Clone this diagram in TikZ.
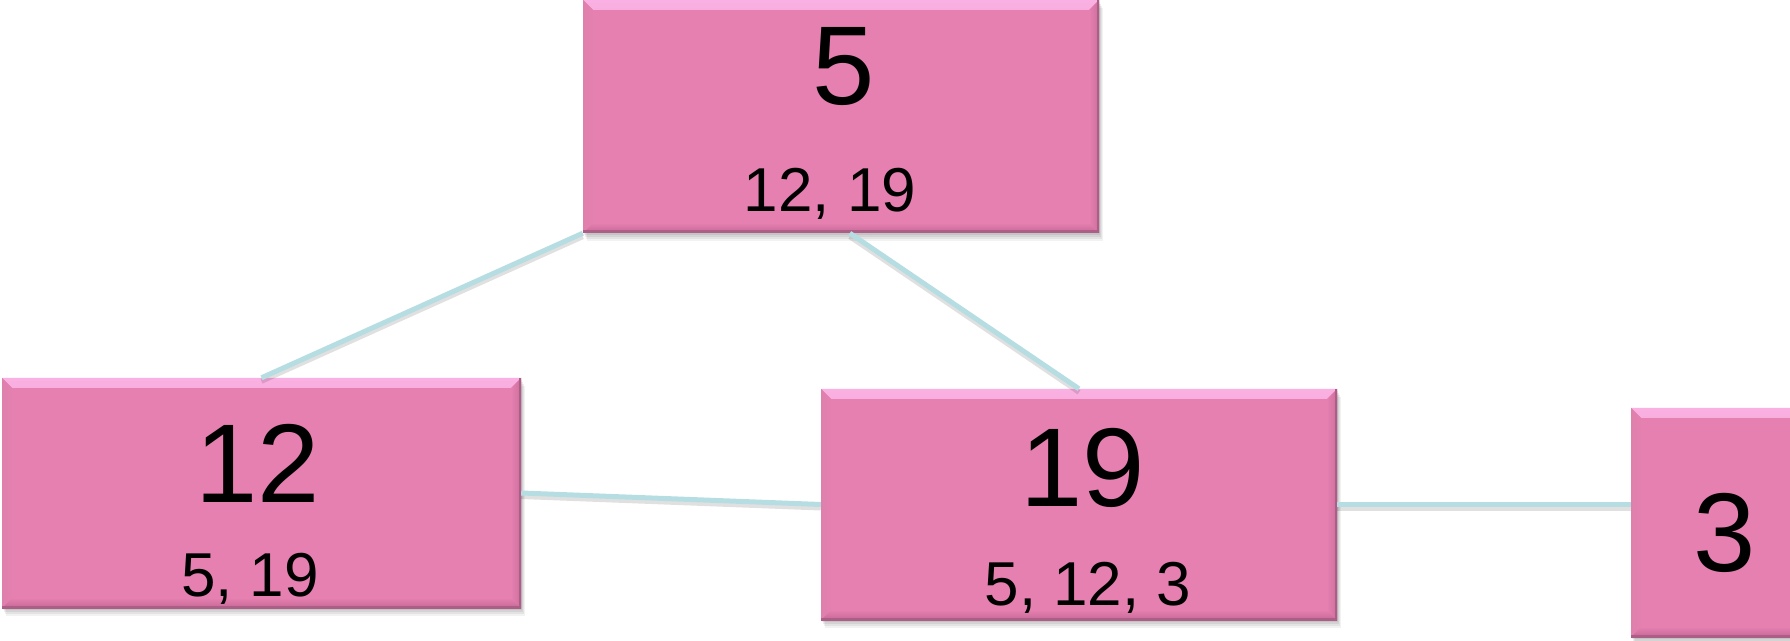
\documentclass[tikz,border=0pt]{standalone}
\usepackage{fontspec}
\setmainfont{Liberation Sans}
\usetikzlibrary{calc}
\definecolor{boxpink}{RGB}{229,128,176}
\definecolor{bevtopc}{RGB}{250,176,226}
\definecolor{bevleftc}{RGB}{222,128,172}
\definecolor{bevbotc}{RGB}{198,104,150}
\definecolor{bevrightc}{RGB}{205,110,156}
\definecolor{edgec}{RGB}{172,94,134}
\definecolor{connc}{RGB}{182,222,226}
\begin{document}
\begin{tikzpicture}[x=1pt,y=1pt,
  bevel/.style={path picture={
    \shade[top color=bevtopc, bottom color=boxpink] (path picture bounding box.north west) -- (path picture bounding box.north east)
      -- ([shift={(-10pt,-10pt)}]path picture bounding box.north east)
      -- ([shift={(10pt,-10pt)}]path picture bounding box.north west) -- cycle;
    \shade[left color=bevleftc, right color=boxpink] (path picture bounding box.north west) -- (path picture bounding box.south west)
      -- ([shift={(10pt,10pt)}]path picture bounding box.south west)
      -- ([shift={(10pt,-10pt)}]path picture bounding box.north west) -- cycle;
    \shade[top color=boxpink, bottom color=bevbotc] (path picture bounding box.south west) -- (path picture bounding box.south east)
      -- ([shift={(-10pt,10pt)}]path picture bounding box.south east)
      -- ([shift={(10pt,10pt)}]path picture bounding box.south west) -- cycle;
    \shade[left color=boxpink, right color=bevrightc] (path picture bounding box.north east) -- (path picture bounding box.south east)
      -- ([shift={(-10pt,10pt)}]path picture bounding box.south east)
      -- ([shift={(-10pt,-10pt)}]path picture bounding box.north east) -- cycle;
    \draw[edgec, line width=5pt] (path picture bounding box.south west) -- (path picture bounding box.south east) -- (path picture bounding box.north east);
  }},
  pinkbox/.style={rectangle, inner sep=0pt, fill=boxpink, bevel,
    preaction={fill=black, opacity=0.07, transform canvas={shift={(1pt,-2pt)}}},
    preaction={fill=black, opacity=0.07, transform canvas={shift={(2pt,-4pt)}}},
    preaction={fill=black, opacity=0.06, transform canvas={shift={(3pt,-6pt)}}},
    preaction={fill=black, opacity=0.05, transform canvas={shift={(4pt,-8pt)}}}},
  bignum/.style={anchor=base, inner sep=0pt, font=\fontsize{112pt}{120pt}\selectfont},
  smallnum/.style={anchor=base, inner sep=0pt, font=\fontsize{62pt}{70pt}\selectfont},
  conn/.style={line width=5pt, color=connc},
  connshadow/.style={line width=5pt, color=black, opacity=0.12, transform canvas={yshift=-3.5pt}}
]
\useasboundingbox (0,0) rectangle (1790,640);
\clip (0,0) rectangle (1790,640);
\fill[white] (0,0) rectangle (1790,640);

% boxes
\node[pinkbox, minimum width=516pt, minimum height=233pt] (b5) at (841,523.5) {};
\node[pinkbox, minimum width=519pt, minimum height=230pt] (b12) at (261.5,147) {};
\node[pinkbox, minimum width=516pt, minimum height=231pt] (b19) at (1079,135.5) {};
\node[pinkbox, minimum width=516pt, minimum height=229pt] (b3) at (1889,117.5) {};

% connectors
\draw[connshadow] (b5.south west) -- (b12.north);
\draw[conn] (b5.south west) -- (b12.north);
\draw[connshadow] ($(b5.south west)!0.517!(b5.south east)$) -- (b19.north);
\draw[conn] ($(b5.south west)!0.517!(b5.south east)$) -- (b19.north);
\draw[connshadow] (b12.east) -- (b19.west);
\draw[conn] (b12.east) -- (b19.west);
\draw[connshadow] (b19.east) -- (b19.east -| b3.west);
\draw[conn] (b19.east) -- (b19.east -| b3.west);

% texts
\node[bignum] (t5) at (844,535) {5};
\node[smallnum] (t5s) at (830,428) {12, 19};
\node[bignum] (t12) at (258,138) {12};
\node[smallnum] (t12s) at (250,44) {5, 19};
\node[bignum] (t19) at (1083,134) {19};
\node[smallnum] (t19s) at (1088,35) {5, 12, 3};
\node[bignum] (t3) at (1725,69) {3};
\end{tikzpicture}
\end{document}
